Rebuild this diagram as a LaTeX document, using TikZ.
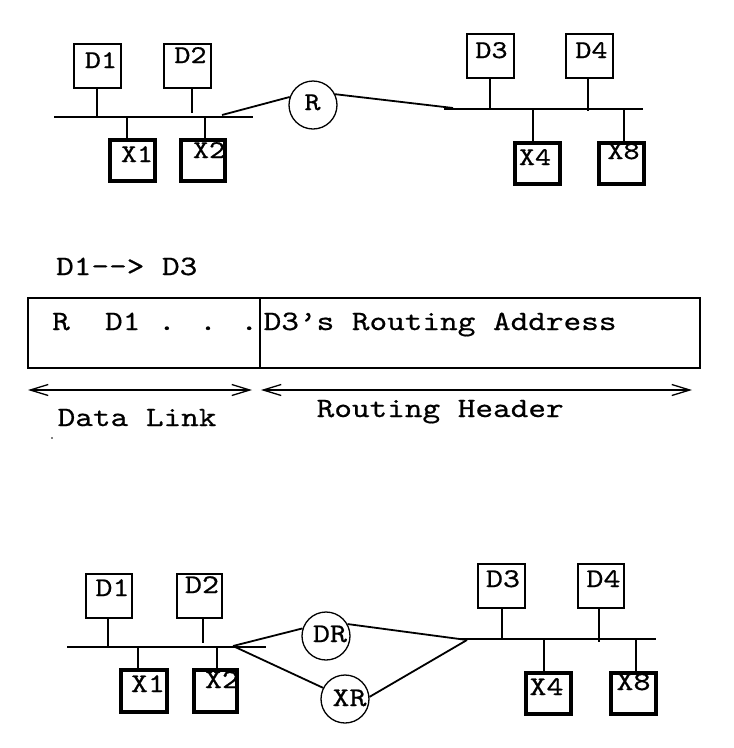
\documentclass[tikz,border=0pt]{standalone}
\usepackage{fontspec}
\newfontfamily\cour{lmmono10-regular}[Extension=.otf, FakeStretch=1.2, FakeBold=0.6]
\usetikzlibrary{arrows.meta}
\tikzset{
  dbox/.style={draw, line width=1.5pt, rectangle, inner sep=0pt, minimum width=47pt, minimum height=44pt},
  xbox/.style={draw, line width=4.5pt, rectangle, inner sep=0pt, minimum width=45pt, minimum height=41pt},
  rtr/.style={draw, line width=1.3pt, circle, inner sep=0pt, minimum size=48pt},
  lab/.style={font=\cour\fontsize{25.5}{25.5}\selectfont, inner sep=0pt, anchor=base},
  blab/.style={font=\cour\fontsize{27}{27}\selectfont, inner sep=0pt, anchor=base},
  mtxt/.style={font=\cour\fontsize{28}{28}\selectfont, inner sep=0pt, anchor=base west},
  bus/.style={line width=2.2pt},
  stem/.style={line width=2pt},
  link/.style={line width=1.8pt},
  frame/.style={line width=1.5pt},
  span/.style={line width=2pt, {Straight Barb[length=18pt,width=11pt,line width=1.3pt]}-{Straight Barb[length=18pt,width=11pt,line width=1.3pt]}}
}
\begin{document}
\begin{tikzpicture}[x=1pt,y=-1pt]
\useasboundingbox (0,0) rectangle (734,748);
% ---------------- top network ----------------
\coordinate (b1w) at (54,117);
\coordinate (b1e) at (253,117);
\coordinate (b2w) at (444,109);
\coordinate (b2e) at (643,109);
\draw[bus] (b1w) -- (b1e);
\draw[bus] (b2w) -- (b2e);
\node[dbox] (tD1) at (97.5,66) {};
\node[dbox] (tD2) at (187.5,66) {};
\node[xbox] (tX1) at (132.5,160.5) {};
\node[xbox, minimum width=44pt] (tX2) at (203,160.5) {};
\node[dbox] (tD3) at (490.5,56) {};
\node[dbox] (tD4) at (589.5,56) {};
\node[xbox] (tX4) at (537.5,163.5) {};
\node[xbox] (tX8) at (621.5,163.5) {};
\node[lab] (ltD1) at (101,68) {D1};
\node[lab] (ltD2) at (190.5,63) {D2};
\node[lab] (ltX1) at (137,162) {X1};
\node[lab] (ltX2) at (209,158) {X2};
\node[lab] (ltD3) at (491.5,58) {D3};
\node[lab] (ltD4) at (591.5,58) {D4};
\node[lab] (ltX4) at (535,165) {X4};
\node[lab] (ltX8) at (623.5,159) {X8};
\node[rtr] (R) at (313,105) {};
\node[lab] (lR) at (312.5,110) {R};
\draw[stem] ([xshift=-0.5pt]tD1.south) -- ([xshift=-0.5pt]tD1.south |- b1w);
\draw[stem] ([xshift=4.5pt]tD2.south) -- ([xshift=4.5pt,yshift=4pt]tD2.south |- b1w);
\draw[stem] ([xshift=-5.5pt]tX1.north) -- ([xshift=-5.5pt]tX1.north |- b1w);
\draw[stem] ([xshift=2pt]tX2.north) -- ([xshift=2pt]tX2.north |- b1w);
\draw[stem] ([xshift=-0.5pt]tD3.south) -- ([xshift=-0.5pt]tD3.south |- b2w);
\draw[stem] ([xshift=-1.5pt]tD4.south) -- ([xshift=-1.5pt,yshift=-2pt]tD4.south |- b2w);
\draw[stem] ([xshift=-4.5pt]tX4.north) -- ([xshift=-4.5pt]tX4.north |- b2w);
\draw[stem] ([xshift=2.5pt]tX8.north) -- ([xshift=2.5pt,yshift=1pt]tX8.north |- b2w);
\coordinate (j1) at (222,115);
\coordinate (j2) at (453,108);
\draw[link] (j1) -- (R.161);
\draw[link] (R.26) -- (j2);
% ---------------- middle: header ----------------
\node[mtxt] (hdr) at (56,275) {D1-{}-> D3};
\node[draw, frame, rectangle, inner sep=0pt, minimum width=232pt, minimum height=70pt] (dl) at (144,333) {};
\node[draw, frame, rectangle, inner sep=0pt, minimum width=440pt, minimum height=70pt] (rh) at (480,333) {};
\node[mtxt] (dltxt) at (52,330) {R\ \ D1 . . .};
\node[mtxt] (rhtxt) at (263.5,330) {D3’s Routing Address};
\coordinate (a1) at (28,390);
\coordinate (a2) at (252,390);
\coordinate (a3) at (261,390);
\coordinate (a4) at (692,390);
\draw[span] (a1) -- (a2);
\draw[span] (a3) -- (a4);
\node[mtxt] (dlk) at (57.5,426) {Data Link};
\node[mtxt] (rhd) at (316.5,417) {Routing Header};
\fill (52,438) circle (0.9pt);
% ---------------- bottom network ----------------
\coordinate (c1w) at (67,647);
\coordinate (c1e) at (266,647);
\coordinate (c2w) at (460,639);
\coordinate (c2e) at (656,639);
\draw[bus] (c1w) -- (c1e);
\draw[bus] (c2w) -- (c2e);
\node[dbox, minimum width=46pt] (bD1) at (109,596) {};
\node[dbox, minimum width=45pt] (bD2) at (199.5,596) {};
\node[xbox, minimum width=46pt, minimum height=42pt] (bX1) at (144,691) {};
\node[xbox, minimum width=43pt, minimum height=42pt] (bX2) at (215.5,691) {};
\node[dbox] (bD3) at (501.5,586) {};
\node[dbox, minimum width=46pt] (bD4) at (601,586) {};
\node[xbox] (bX4) at (548.5,693.5) {};
\node[xbox] (bX8) at (633.5,693.5) {};
\node[blab] (lbD1) at (112.5,596) {D1};
\node[blab] (lbD2) at (202,593) {D2};
\node[blab] (lbX1) at (148,692) {X1};
\node[blab] (lbX2) at (222,688) {X2};
\node[blab] (lbD3) at (503,587) {D3};
\node[blab] (lbD4) at (603.5,587) {D4};
\node[blab] (lbX4) at (546.5,695) {X4};
\node[blab] (lbX8) at (633.5,690) {X8};
\node[rtr] (DR) at (326,636) {};
\node[rtr] (XR) at (345,699) {};
\node[blab] (lDR) at (330,642) {DR};
\node[blab] (lXR) at (349.5,706) {XR};
\draw[stem] ([xshift=-1pt]bD1.south) -- ([xshift=-1pt]bD1.south |- c1w);
\draw[stem] ([xshift=3.5pt]bD2.south) -- ([xshift=3.5pt,yshift=4pt]bD2.south |- c1w);
\draw[stem] ([xshift=-6pt]bX1.north) -- ([xshift=-6pt]bX1.north |- c1w);
\draw[stem] ([xshift=1.5pt]bX2.north) -- ([xshift=1.5pt]bX2.north |- c1w);
\draw[stem] ([xshift=0.5pt]bD3.south) -- ([xshift=0.5pt]bD3.south |- c2w);
\draw[stem] ([xshift=-2pt]bD4.south) -- ([xshift=-2pt,yshift=-3pt]bD4.south |- c2w);
\draw[stem] ([xshift=-4.5pt]bX4.north) -- ([xshift=-4.5pt]bX4.north |- c2w);
\draw[stem] ([xshift=2.5pt]bX8.north) -- ([xshift=2.5pt]bX8.north |- c2w);
\coordinate (ap) at (233,646);
\coordinate (ap2) at (467,640);
\draw[link] (ap) -- (DR.162);
\draw[link] (ap) -- (XR.153);
\draw[link] (DR.29) -- (ap2);
\draw[link] (XR.5) -- (ap2);
\end{tikzpicture}
\end{document}
